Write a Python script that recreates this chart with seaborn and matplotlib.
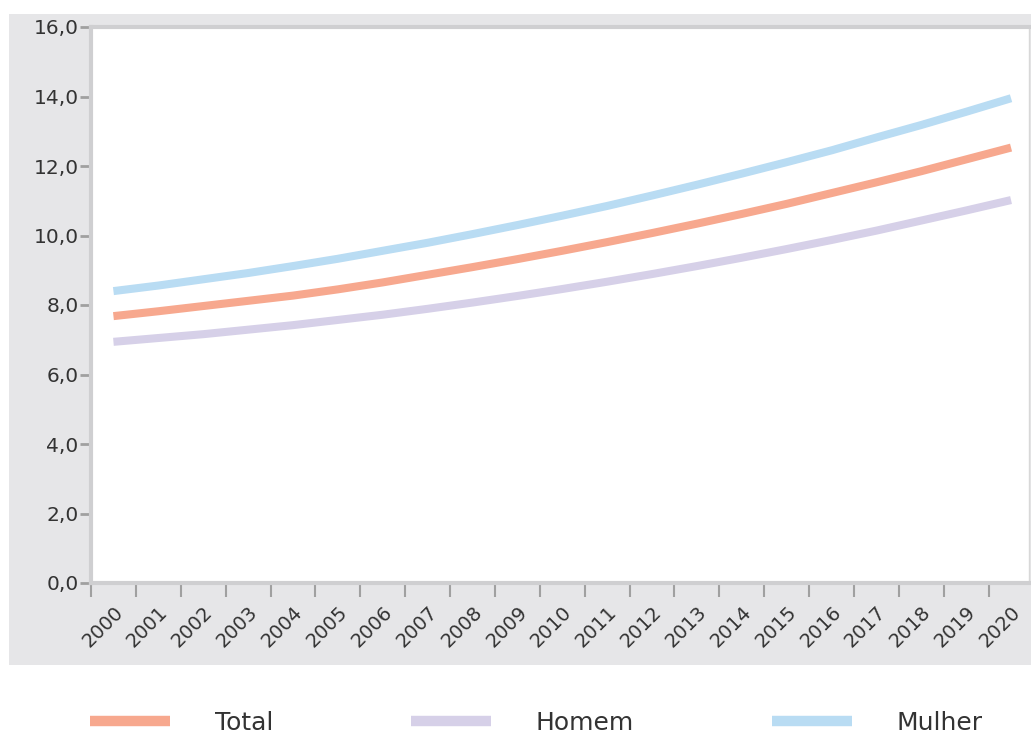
import matplotlib
matplotlib.use("Agg")
import matplotlib.pyplot as plt
import seaborn as sns
import pandas as pd
from matplotlib.patches import Rectangle
from matplotlib.ticker import FixedLocator, FuncFormatter

# data
years = list(range(2000, 2021))
total = [7.68, 7.82, 7.97, 8.12, 8.27, 8.45, 8.65, 8.87, 9.09, 9.32, 9.56,
         9.81, 10.07, 10.34, 10.62, 10.91, 11.22, 11.53, 11.85, 12.19, 12.53]
homem = [6.94, 7.05, 7.16, 7.29, 7.42, 7.57, 7.72, 7.89, 8.07, 8.26, 8.46,
         8.67, 8.89, 9.12, 9.36, 9.61, 9.87, 10.14, 10.43, 10.72, 11.02]
mulher = [8.40, 8.56, 8.74, 8.92, 9.12, 9.33, 9.56, 9.79, 10.04, 10.30, 10.57,
          10.85, 11.15, 11.46, 11.78, 12.11, 12.45, 12.82, 13.18, 13.56, 13.95]
series = ["Total", "Homem", "Mulher"]
y_ticks = [0, 2, 4, 6, 8, 10, 12, 14, 16]

colors = {"Total": "#f7a88e", "Homem": "#d6d0e8", "Mulher": "#b9dcf3"}

df = pd.DataFrame({"ano": years, "Total": total, "Homem": homem, "Mulher": mulher})
df = df.melt(id_vars="ano", value_vars=series, var_name="serie", value_name="valor")

sns.set_style("white")
plt.rcParams["font.family"] = ["DejaVu Sans"]

W, H = 1031, 734
fig = plt.figure(figsize=(W / 100, H / 100), dpi=100, facecolor="white")

# grey panel behind the axes
fig.patches.append(Rectangle((9 / W, 1 - 665 / H), (W - 9) / W, (665 - 14) / H,
                             transform=fig.transFigure, facecolor="#e6e6e8",
                             edgecolor="none", zorder=-10))

ax = fig.add_axes([91 / W, 1 - 583 / H, (1029 - 91) / W, (583 - 27) / H])
ax.set_facecolor("white")

sns.lineplot(data=df, x="ano", y="valor", hue="serie", hue_order=series,
             palette=colors, linewidth=5.8, ax=ax, legend=False)
for ln in ax.get_lines():
    ln.set_solid_capstyle("butt")

ax.set_xlim(1999.5, 2020.4)
ax.set_ylim(0, 16)
ax.set_xlabel("")
ax.set_ylabel("")

ax.yaxis.set_major_locator(FixedLocator(y_ticks))
ax.yaxis.set_major_formatter(FuncFormatter(lambda v, p: f"{v:.1f}".replace(".", ",")))
ax.tick_params(axis="y", length=8, width=2, color="#a0a0a0", labelsize=14.5,
               labelcolor="#333333", pad=1, left=True)

ax.xaxis.set_major_locator(FixedLocator(years))
ax.xaxis.set_minor_locator(FixedLocator([y - 0.5 for y in years]))
ax.tick_params(axis="x", which="major", length=0, labelsize=14, labelcolor="#333333", pad=14)
ax.tick_params(axis="x", which="minor", length=10, width=1.5, color="#a0a0a0", bottom=True)
for lab in ax.get_xticklabels():
    lab.set_rotation(45)
    lab.set_ha("right")
    lab.set_rotation_mode("anchor")

for side in ["left", "bottom", "top"]:
    ax.spines[side].set_color("#cfcfd1")
    ax.spines[side].set_linewidth(3)
ax.spines["right"].set_color("#d8d8d8")
ax.spines["right"].set_linewidth(1)

handles = [plt.Line2D([], [], color=colors[s], linewidth=7.5, solid_capstyle="butt")
           for s in series]
fig.legend(handles, series, loc="center left", bbox_to_anchor=(67.5 / W, 1 - 723 / H),
           ncol=3, frameon=False, fontsize=18, handlelength=3.2, handletextpad=1.8,
           columnspacing=5.5, labelcolor="#333333")

fig.savefig("out.png", dpi=100, facecolor="white")
